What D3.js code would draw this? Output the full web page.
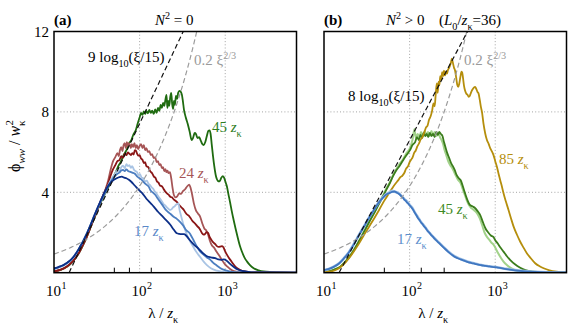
<!DOCTYPE html>
<html><head><meta charset="utf-8">
<script src="https://cdn.jsdelivr.net/npm/d3@7"></script>
<style>
body{margin:0;background:#fff}
svg{display:block}
</style>
</head><body>
<svg id="c" width="568" height="330"></svg>
<script>
// ---------------- DATA (xi = lambda / z_kappa, value = phi_ww / w_kappa^2) ----------------
const leftGreen45 = [[10,0.06],[12,0.14],[14,0.28],[16,0.48],[18,0.74],[20,1.05],[22,1.4],[24,1.75],[27,2.3],[30,2.78],[33,3.22],[36,3.58],[40,4.0],[44,4.32],[48,4.68],[52,4.95],[56,5.28],[60,5.5],[65,5.85],[70,6.08],[75,6.42],[80,6.6],[85,6.9],[90,7.08],[95,7.42],[100,7.72],[104,7.95],[108,7.85],[112,8.02],[116,7.9],[120,8.05],[125,7.93],[130,8.1],[135,7.95],[140,8.06],[146,7.9],[152,8.12],[158,7.95],[164,8.2],[170,8.05],[176,8.35],[182,8.2],[188,8.45],[194,8.3],[200,8.6],[206,8.85],[211,8.2],[216,8.55],[222,8.3],[228,8.75],[234,8.95],[240,8.4],[246,8.15],[252,8.55],[258,8.35],[266,8.8],[274,8.65],[282,8.95],[292,9.05],[302,9.0],[312,8.85],[320,8.55],[330,8.1],[345,7.75],[365,7.4],[385,7.0],[405,6.6],[420,6.7],[440,6.95],[455,6.9],[475,6.7],[495,6.75],[515,6.6],[540,6.4],[560,6.35],[585,6.5],[610,6.8],[635,7.05],[655,7.08],[675,6.9],[695,6.4],[720,5.8],[745,5.3],[775,4.85],[800,4.65],[830,4.55],[860,4.55],[900,4.72],[940,4.8],[975,4.7],[1010,4.5],[1045,4.3],[1090,3.9],[1140,3.5],[1200,3.0],[1250,2.65],[1320,2.2],[1390,1.8],[1480,1.35],[1570,1.04],[1680,0.75],[1800,0.55],[1970,0.35],[2150,0.22],[2450,0.12],[2800,0.06],[3500,0.03],[4500,0.01],[6800,0]];

const leftRedLight24 = [[10,0.07],[12,0.15],[14,0.3],[16,0.5],[18,0.76],[20,1.07],[22,1.42],[24,1.77],[27,2.32],[30,2.82],[33,3.27],[36,3.67],[40,4.15],[43,4.6],[46,5.15],[49,5.55],[52,5.75],[55,5.95],[57,5.8],[59,6.1],[61,6.25],[63,6.05],[65,6.35],[67,6.45],[69,6.2],[71,6.5],[73,6.3],[75,6.45],[77,6.35],[79,6.2],[81,6.4],[84,6.25],[87,6.45],[90,6.2],[93,6.35],[96,6.15],[100,6.3],[104,6.4],[108,6.2],[112,6.35],[116,6.1],[120,6.2],[125,6.0],[130,6.05],[135,5.85],[140,5.9],[146,5.7],[152,5.75],[158,5.5],[164,5.55],[170,5.35],[176,5.4],[182,5.2],[188,5.25],[194,5.05],[200,5.15],[206,5.0],[212,5.08],[218,4.95],[226,5.0],[234,4.7],[242,4.25],[252,3.85],[262,3.75],[275,3.8],[290,3.95],[305,3.92],[320,4.05],[340,4.15],[360,4.3],[380,4.38],[395,4.2],[410,3.9],[430,3.45],[455,3.1],[480,2.95],[510,2.78],[540,2.45],[570,2.2],[600,2.1],[630,1.9],[660,1.6],[700,1.35],[740,1.25],[790,1.05],[850,0.85],[910,0.65],[980,0.45],[1060,0.3],[1150,0.17],[1260,0.08],[1450,0.03],[2000,0.01],[6800,0]];

const leftRedDark24 = [[10,0.07],[12,0.15],[14,0.3],[16,0.5],[18,0.76],[20,1.07],[22,1.42],[24,1.77],[27,2.32],[30,2.82],[33,3.27],[36,3.67],[40,4.12],[43,4.45],[46,4.85],[49,5.15],[52,5.35],[55,5.55],[58,5.6],[61,5.8],[64,5.72],[67,5.92],[70,5.85],[73,5.98],[76,5.92],[79,5.85],[82,5.95],[85,5.88],[88,6.1],[91,6.05],[94,5.9],[97,5.82],[100,5.85],[104,5.68],[108,5.62],[112,5.45],[116,5.5],[120,5.3],[126,5.25],[133,5.05],[140,4.95],[147,4.78],[153,4.72],[159,4.55],[166,4.48],[174,4.33],[182,4.3],[190,4.18],[198,4.05],[208,3.95],[218,3.88],[228,3.78],[238,3.75],[250,3.65],[262,3.58],[272,3.52],[285,3.4],[300,3.3],[312,3.22],[325,3.15],[340,3.02],[357,2.9],[372,2.85],[389,2.75],[410,2.6],[430,2.5],[450,2.42],[470,2.32],[500,2.2],[530,2.0],[558,1.9],[580,1.92],[605,2.02],[630,1.98],[655,1.8],[685,1.65],[720,1.52],[764,1.42],[800,1.32],[840,1.28],[880,1.3],[920,1.32],[955,1.25],[990,1.1],[1030,0.95],[1080,0.8],[1140,0.65],[1200,0.52],[1280,0.36],[1380,0.22],[1500,0.13],[1700,0.06],[2000,0.02],[3000,0.01],[6800,0]];

const leftBlueLight17 = [[10,0.18],[12,0.3],[14,0.45],[16,0.65],[18,0.93],[20,1.25],[22,1.6],[24,1.93],[27,2.42],[30,2.9],[33,3.3],[36,3.65],[40,4.05],[43,4.35],[46,4.6],[49,4.78],[52,4.95],[55,5.1],[58,5.05],[61,5.25],[64,5.32],[67,5.2],[70,5.4],[73,5.3],[76,5.35],[79,5.22],[82,5.3],[86,5.12],[90,5.05],[94,4.98],[97,4.85],[101,4.9],[105,4.75],[110,4.7],[116,4.55],[121,4.58],[127,4.42],[133,4.35],[138,4.25],[144,4.18],[150,4.05],[157,3.95],[165,3.8],[172,3.7],[180,3.58],[190,3.42],[199,3.35],[208,3.25],[217,3.18],[226,3.12],[236,3.15],[246,3.25],[256,3.3],[266,3.38],[276,3.42],[284,3.45],[292,3.15],[302,2.9],[315,2.6],[330,2.3],[345,2.05],[360,1.85],[390,1.55],[428,1.25],[465,1.0],[510,0.78],[560,0.55],[611,0.38],[680,0.22],[797,0.1],[950,0.04],[1200,0.01],[6800,0]];

const leftBlueMid17 = [[10,0.19],[12,0.31],[14,0.46],[16,0.66],[18,0.94],[20,1.26],[22,1.6],[24,1.92],[27,2.42],[30,2.9],[33,3.3],[36,3.64],[40,4.02],[43,4.3],[46,4.52],[49,4.7],[52,4.82],[55,4.92],[58,4.98],[61,5.08],[64,5.12],[67,5.05],[70,5.14],[74,5.05],[78,5.02],[82,4.98],[88,4.92],[94,4.78],[100,4.7],[106,4.62],[113,4.48],[120,4.38],[127,4.3],[135,4.08],[143,3.98],[152,3.88],[162,3.7],[174,3.52],[186,3.35],[200,3.15],[215,3.02],[230,2.92],[250,2.78],[272,2.68],[300,2.5],[325,2.33],[345,2.15],[361,2.06],[378,2.0],[395,1.88],[428,1.6],[466,1.3],[510,1.05],[558,0.9],[611,0.76],[666,0.65],[720,0.5],[797,0.36],[880,0.22],[1040,0.1],[1250,0.03],[1600,0.01],[6800,0]];

const leftBlueDark17 = [[10,0.22],[11,0.27],[12,0.33],[13,0.39],[14,0.48],[15,0.57],[16,0.68],[17,0.8],[18,0.95],[19,1.1],[20,1.27],[21.5,1.5],[23,1.75],[24.5,2.0],[26,2.25],[27.5,2.5],[29,2.75],[31,3.05],[33,3.33],[35,3.57],[37,3.8],[40,4.1],[43,4.32],[46,4.48],[50,4.62],[54,4.7],[58,4.76],[62,4.78],[66,4.73],[70,4.7],[75,4.62],[81,4.5],[87,4.35],[93,4.22],[100,4.08],[110,3.9],[120,3.68],[130,3.52],[140,3.38],[152,3.2],[165,3.02],[178,2.88],[190,2.75],[208,2.58],[227,2.4],[250,2.15],[272,1.96],[290,1.93],[310,1.92],[330,1.92],[349,1.85],[370,1.72],[389,1.6],[430,1.4],[487,1.2],[558,0.95],[611,0.82],[680,0.76],[764,0.72],[830,0.66],[900,0.64],[960,0.66],[1040,0.6],[1130,0.45],[1250,0.3],[1400,0.16],[1640,0.08],[2000,0.02],[3000,0.01],[6800,0]];

const rightGold85 = [[10,0.03],[12,0.06],[13.5,0.12],[15,0.22],[17,0.42],[19.6,0.72],[22.5,1.08],[25.7,1.46],[29.5,1.9],[33.6,2.29],[38.5,2.7],[44,3.12],[50,3.55],[57.5,3.95],[63,4.22],[68.9,4.45],[73,4.58],[78,4.75],[82,4.82],[86.6,4.96],[91,5.18],[96,5.3],[100,5.5],[104,5.62],[108,5.72],[113,5.96],[118,6.08],[123,6.28],[129,6.44],[134,6.62],[140,6.72],[148,6.96],[155,7.22],[162,7.32],[169,7.62],[176,7.78],[183,8.05],[190,8.42],[196,8.28],[202,8.9],[208,9.42],[213,8.95],[218,9.5],[223,9.32],[228,9.78],[234,9.6],[240,9.98],[246,9.78],[252,10.05],[259,9.82],[266,10.02],[273,9.9],[280,10.08],[288,10.18],[296,10.3],[304,10.45],[311,10.65],[320,10.45],[330,10.2],[340,10.05],[350,9.7],[360,9.35],[370,9.25],[380,9.4],[392,9.75],[404,10.0],[412,9.95],[420,9.7],[432,9.3],[445,9.05],[460,8.9],[475,8.85],[490,8.75],[505,8.8],[520,8.95],[540,9.1],[560,9.2],[583,9.25],[600,9.15],[620,9.0],[640,8.9],[660,8.6],[680,8.25],[700,8.0],[730,7.4],[763,6.94],[800,6.6],[840,6.4],[873,6.2],[910,6.05],[955,5.85],[1000,5.55],[1046,5.27],[1090,4.95],[1142,4.61],[1195,4.3],[1250,3.95],[1330,3.55],[1430,3.12],[1530,2.7],[1640,2.29],[1790,1.9],[1960,1.54],[2140,1.25],[2340,0.97],[2600,0.72],[2930,0.47],[3300,0.32],[3680,0.22],[4300,0.12],[5200,0.05],[6800,0.01]];

const rightGreenDark45 = [[10,0.04],[12,0.09],[14,0.2],[15.5,0.3],[17.1,0.47],[19.5,0.75],[22.4,1.13],[25.5,1.55],[29.4,2.04],[33.5,2.5],[38.4,2.95],[43,3.35],[48.6,3.78],[53,4.1],[58.7,4.45],[64,4.8],[70,5.1],[76,5.3],[84,5.6],[92,5.85],[101,6.1],[108,6.35],[116,6.5],[122,6.75],[128,6.6],[134,6.85],[140,6.7],[146,6.95],[152,6.8],[158,6.9],[165,6.75],[172,6.95],[180,6.8],[188,6.9],[196,6.75],[205,7.0],[214,6.85],[222,7.0],[232,6.9],[242,6.8],[252,6.5],[262,6.25],[275,5.95],[290,5.7],[305,5.45],[320,5.3],[337,5.1],[355,4.85],[375,4.7],[395,4.6],[415,4.35],[440,4.0],[470,3.65],[500,3.4],[540,3.3],[580,3.22],[625,3.05],[670,2.85],[720,2.5],[770,2.2],[830,2.0],[890,1.85],[950,1.78],[1000,1.62],[1070,1.45],[1150,1.25],[1250,1.05],[1370,0.82],[1500,0.63],[1700,0.42],[1960,0.25],[2250,0.13],[2800,0.05],[3600,0.02],[6800,0]];

const rightGreenLight45 = [[10,0.04],[12,0.09],[14,0.2],[15.5,0.3],[17.1,0.48],[19.5,0.76],[22.4,1.15],[25.5,1.57],[29.4,2.06],[33.5,2.52],[38.4,2.98],[43,3.4],[48.6,3.82],[53,4.15],[58.7,4.5],[64,4.85],[70,5.15],[76,5.4],[84,5.65],[92,5.95],[101,6.2],[108,6.6],[114,7.15],[118,6.7],[124,6.9],[130,6.75],[136,7.0],[143,6.8],[150,7.05],[157,6.85],[164,7.0],[172,6.8],[180,7.05],[188,6.85],[196,7.0],[206,6.8],[216,6.95],[226,6.75],[236,6.6],[246,6.4],[256,6.1],[268,5.85],[282,5.55],[298,5.35],[315,5.2],[332,5.0],[350,4.8],[370,4.6],[390,4.5],[410,4.25],[435,3.95],[465,3.6],[495,3.35],[530,3.2],[570,3.1],[615,2.95],[660,2.7],[705,2.35],[750,2.0],[800,1.78],[850,1.65],[900,1.5],[955,1.4],[1000,1.25],[1070,1.0],[1142,0.8],[1250,0.55],[1368,0.38],[1500,0.25],[1700,0.13],[2000,0.05],[2600,0.02],[6800,0]];

const rightBlueLight17 = [[10,0.12],[11.5,0.2],[13,0.3],[15,0.47],[17,0.71],[19.5,1.02],[22.4,1.44],[25.5,1.87],[29.4,2.32],[33.5,2.74],[38.4,3.14],[43,3.47],[48.6,3.74],[53,3.9],[58.7,4.0],[63,4.08],[67,4.02],[71,4.0],[76,3.93],[81,3.8],[87,3.66],[93,3.55],[100,3.38],[107,3.24],[115,3.0],[125,2.76],[136,2.52],[148,2.33],[162,2.1],[178,1.9],[197,1.7],[220,1.5],[250,1.27],[285,1.04],[333,0.82],[400,0.67],[480,0.55],[580,0.46],[690,0.38],[850,0.32],[1080,0.26],[1350,0.19],[1700,0.13],[2200,0.08],[2900,0.04],[4000,0.02],[6800,0.01]];

const rightBlue17 = [[10,0.13],[11.5,0.19],[13,0.29],[15,0.46],[17,0.7],[19.5,1.0],[22.4,1.42],[25.5,1.85],[29.4,2.3],[33.5,2.72],[38.4,3.12],[43,3.45],[48.6,3.72],[53,3.88],[58.7,3.97],[63,4.02],[67,4.04],[71,3.98],[76,3.9],[81,3.78],[84,3.72],[87,3.62],[90,3.58],[93,3.5],[97,3.42],[100,3.35],[104,3.27],[107,3.2],[111,3.1],[115,2.98],[120,2.86],[125,2.72],[130,2.63],[136,2.5],[142,2.41],[148,2.3],[155,2.2],[162,2.08],[170,1.99],[178,1.88],[187,1.79],[197,1.68],[208,1.58],[220,1.48],[235,1.36],[250,1.25],[268,1.13],[285,1.02],[310,0.9],[333,0.8],[365,0.72],[400,0.65],[440,0.59],[480,0.53],[530,0.48],[580,0.44],[630,0.4],[690,0.37],[770,0.34],[850,0.31],[960,0.28],[1080,0.25],[1350,0.18],[1700,0.12],[2200,0.07],[2900,0.04],[4000,0.02],[6800,0.01]];

// reference lines (coefficients as printed on the chart)
const logCoefA = 9, logCoefB = 8, logRef = 15;
const powCoef = 0.2, powExp = 2 / 3;

// axes
const yTicks = [4, 8, 12];
const xMajor = [10, 100, 1000];
const xMajorExp = ["1", "2", "3"];
const minorTicksA = [50, 75, 135];
const minorTicksB = [50, 135, 250];
const xDomain = [10, 6800];
const yDomain = [0, 12];

// ---------------- DRAWING ----------------
const FONT = '"Liberation Serif"';
const svg = d3.select("#c");
const plotTop = 31.5, plotBottom = 272.7;
const y = d3.scaleLinear().domain(yDomain).range([plotBottom, plotTop]);
const xA = d3.scaleLog().domain(xDomain).range([54, 296.5]);
const xB = d3.scaleLog().domain(xDomain).range([324, 566.5]);

function rich(sel, x, yy, parts, size, fill, anchor) {
  const t = sel.append("text").attr("x", x).attr("y", yy)
    .style("font-family", FONT)
    .attr("font-size", size).attr("fill", fill || "#000")
    .attr("text-anchor", anchor || "start");
  let cur = 0;
  parts.forEach(p => {
    const off = p.sub ? size * 0.3 : p.sup ? -size * 0.42 : 0;
    const ts = t.append("tspan").text(p.t).attr("dy", off - cur).style("font-family", FONT);
    cur = off;
    if (p.sub || p.sup) ts.attr("font-size", size * 0.68);
    if (p.i) ts.attr("font-style", "italic");
    if (p.b) ts.attr("font-weight", "bold");
    if (p.dx != null) ts.attr("dx", p.dx);
  });
  return t;
}

function panel(x, id, series, logCoef, minorTicks) {
  const g = svg.append("g");
  const x0 = x.range()[0], x1 = x.range()[1];
  g.append("clipPath").attr("id", id).append("rect")
    .attr("x", x0).attr("y", plotTop).attr("width", x1 - x0).attr("height", plotBottom - plotTop);

  const grid = g.append("g").attr("stroke", "#9a9a9a").attr("stroke-width", 0.9)
    .attr("stroke-dasharray", "1,2.2");
  [4, 8].forEach(v => grid.append("line").attr("x1", x0).attr("x2", x1)
    .attr("y1", y(v)).attr("y2", y(v)));
  [100, 1000].forEach(v => grid.append("line").attr("x1", x(v)).attr("x2", x(v))
    .attr("y1", plotTop).attr("y2", plotBottom));

  const line = d3.line().x(d => x(d[0])).y(d => y(d[1])).curve(d3.curveMonotoneX);
  const cg = g.append("g").attr("clip-path", `url(#${id})`);
  series.forEach(s => {
    cg.append("path").datum(s.data).attr("d", line).attr("fill", "none")
      .attr("stroke", s.color).attr("stroke-width", s.w || 1.8)
      .attr("stroke-linejoin", "round");
  });

  const xs = d3.range(0, 201).map(i => Math.pow(10, 1 + i * 2.84 / 200));
  const gray = xs.map(v => [v, powCoef * Math.pow(v, powExp)]);
  const blk = xs.filter(v => v >= logRef).map(v => [v, logCoef * Math.log10(v / logRef)]);
  blk.unshift([logRef, 0]);
  const lin = d3.line().x(d => x(d[0])).y(d => y(d[1]));
  cg.append("path").datum(gray).attr("d", lin).attr("fill", "none")
    .attr("stroke", "#9c9c9c").attr("stroke-width", 1.2).attr("stroke-dasharray", "5,3");
  cg.append("path").datum(blk).attr("d", lin).attr("fill", "none")
    .attr("stroke", "#111").attr("stroke-width", 1.2).attr("stroke-dasharray", "5,3");

  const ax = g.append("g").attr("transform", `translate(0,${plotBottom})`)
    .call(d3.axisBottom(x).tickValues(minorTicks).tickSize(-5).tickFormat(""));
  ax.select(".domain").remove();
  ax.selectAll("line").attr("stroke", "#000").attr("stroke-width", 1);

  g.append("rect").attr("x", x0).attr("y", plotTop).attr("width", x1 - x0)
    .attr("height", plotBottom - plotTop).attr("fill", "none").attr("stroke", "#000")
    .attr("stroke-width", 1.5);

  xMajor.forEach((v, i) => {
    g.append("text").attr("x", x(v) - 0.5).attr("y", 296).attr("font-size", 15)
      .style("font-family", FONT).attr("text-anchor", "middle").text("10");
    g.append("text").attr("x", x(v) + 7.5).attr("y", 288.5).attr("font-size", 10)
      .style("font-family", FONT).text(xMajorExp[i]);
  });
  rich(g, (x0 + x1) / 2 - 12, 318, [{t: "λ / "}, {t: "z", i: true}, {t: "κ", sub: true}], 15, "#000", "middle");
  return g;
}

const gA = panel(xA, "clipA", [
  {data: leftGreen45, color: "#1f6b10"},
  {data: leftRedLight24, color: "#a65556"},
  {data: leftRedDark24, color: "#8a1616"},
  {data: leftBlueLight17, color: "#a9c4e4"},
  {data: leftBlueMid17, color: "#4c7ec0"},
  {data: leftBlueDark17, color: "#0c2f88"}
], logCoefA, minorTicksA);

const gB = panel(xB, "clipB", [
  {data: rightGreenLight45, color: "#a2d28a", w: 2.0},
  {data: rightGreenDark45, color: "#3b7d1c"},
  {data: rightGold85, color: "#b58e0c"},
  {data: rightBlueLight17, color: "#9fc0e5", w: 2.6},
  {data: rightBlue17, color: "#3f76c0"}
], logCoefB, minorTicksB);

const yAx = svg.append("g").attr("transform", "translate(54,0)")
  .call(d3.axisLeft(y).tickValues(yTicks).tickSize(0).tickPadding(5).tickFormat(d3.format("d")));
yAx.select(".domain").remove();
yAx.attr("font-family", null);
yAx.selectAll("text").attr("font-size", 15).style("font-family", FONT).attr("fill", "#000");

const yl = svg.append("g").attr("transform", "translate(20,146) rotate(-90)");
rich(yl, 0, 0, [{t: "ϕ"}, {t: "ww", sub: true, i: true}, {t: " / "}, {t: "w", i: true},
  {t: "κ", sub: true}, {t: "2", sup: true, dx: -5}], 16, "#000", "middle");

rich(svg, 54, 25, [{t: "(a)", b: true}], 15);
rich(svg, 155, 25, [{t: "N", i: true}, {t: "2", sup: true}, {t: " = 0"}], 15);
rich(svg, 324, 25, [{t: "(b)", b: true}], 15);
rich(svg, 386, 25, [{t: "N", i: true}, {t: "2", sup: true}, {t: " > 0"}], 15);
rich(svg, 439, 25, [{t: "("}, {t: "L", i: true}, {t: "0", sub: true}, {t: "/"}, {t: "z", i: true}, {t: "κ", sub: true}, {t: "=36)"}], 15);

rich(svg, 88, 62, [{t: "9 log"}, {t: "10", sub: true}, {t: "(ξ/15)"}], 15, "#000");
rich(svg, 194, 65, [{t: "0.2 ξ"}, {t: "2/3", sup: true}], 15, "#9a9a9a");
rich(svg, 212, 132, [{t: "45 "}, {t: "z", i: true}, {t: "κ", sub: true}], 15, "#2f7d1e");
rich(svg, 179, 178, [{t: "24 "}, {t: "z", i: true}, {t: "κ", sub: true}], 15, "#a65556");
rich(svg, 134, 236, [{t: "17 "}, {t: "z", i: true}, {t: "κ", sub: true}], 15, "#5a88c8");

rich(svg, 348, 101, [{t: "8 log"}, {t: "10", sub: true}, {t: "(ξ/15)"}], 15, "#000");
rich(svg, 464, 65, [{t: "0.2 ξ"}, {t: "2/3", sup: true}], 15, "#9a9a9a");
rich(svg, 499, 164, [{t: "85 "}, {t: "z", i: true}, {t: "κ", sub: true}], 15, "#b58e0c");
rich(svg, 438, 214, [{t: "45 "}, {t: "z", i: true}, {t: "κ", sub: true}], 15, "#3f8a24");
rich(svg, 397, 244, [{t: "17 "}, {t: "z", i: true}, {t: "κ", sub: true}], 15, "#5d8fcc");
</script>
</body></html>
